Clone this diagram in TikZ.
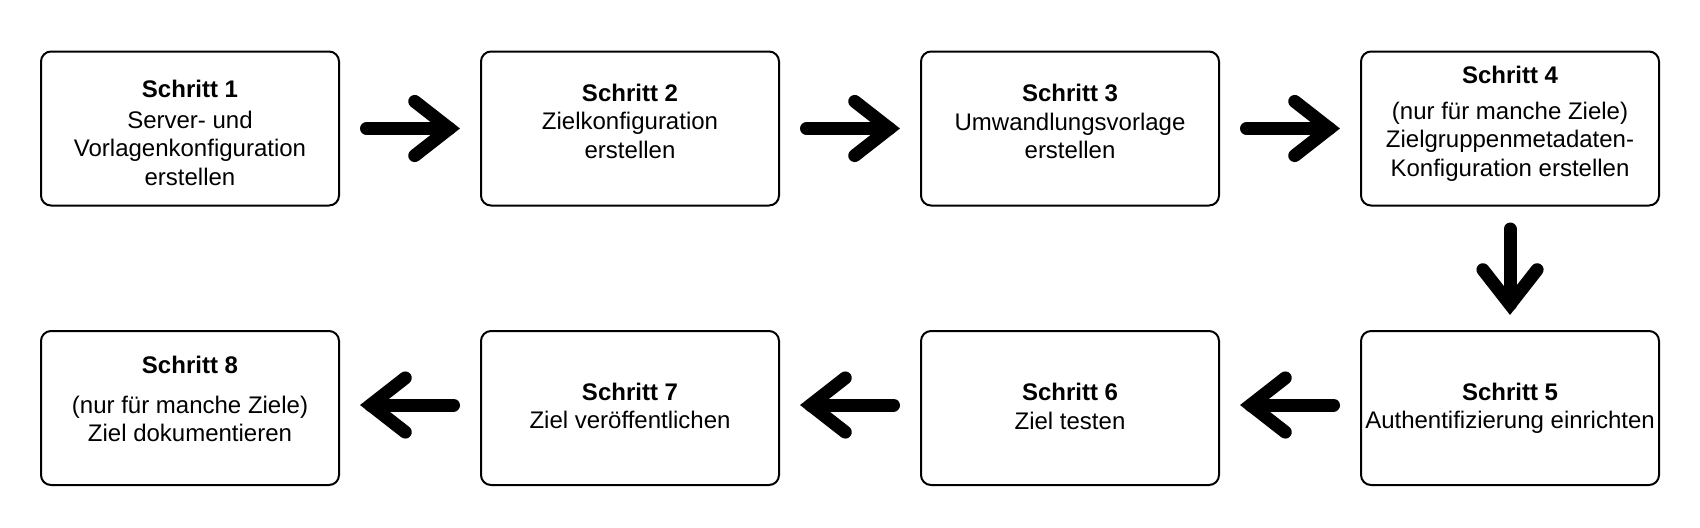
\documentclass[tikz,border=0pt]{standalone}
\usepackage{fontspec}
\setmainfont{Liberation Sans}
\usetikzlibrary{calc}
\tikzset{
  stepbox/.style={draw=black, line width=1pt, rounded corners=5pt, fill=white,
    minimum width=149pt, minimum height=77pt, inner sep=0pt, text height=0pt,
    font=\fontsize{12}{14.25}\selectfont},
  fatline/.style={line width=6.5pt, line cap=round, line join=miter, draw=black}
}
\newcommand{\steplines}[1]{\begin{tabular}[t]{@{}c@{}}#1\end{tabular}}
\newcommand{\fatarrow}[2]{%
  \coordinate (ta) at #1;
  \coordinate (tb) at #2;
  \coordinate (tcs) at ($(ta)!3.25pt!(tb)$);
  \coordinate (tce) at ($(tb)!5.3pt!(ta)$);
  \coordinate (arma) at ($(tce)!22pt!38:(ta)$);
  \coordinate (armb) at ($(tce)!22pt!-38:(ta)$);
  \draw[fatline] (tcs) -- (tce);
  \draw[fatline] (arma) -- (tce) -- (armb);
}
\begin{document}
\begin{tikzpicture}[x=0.5pt, y=-0.5pt]
\useasboundingbox (0,0) rectangle (1700,527);
\fill[white] (0,0) rectangle (1700,527);
\node[stepbox, text depth=31.5pt] (b1) at (190,128.5) {\steplines{\textbf{Schritt 1}\\[1.25pt]Server- und\\Vorlagenkonfiguration\\erstellen}};
\node[stepbox, text depth=27.5pt] (b2) at (630,128.5) {\steplines{\textbf{Schritt 2}\\Zielkonfiguration\\erstellen}};
\node[stepbox, text depth=27pt] (b3) at (1070,128.5) {\steplines{\textbf{Schritt 3}\\Umwandlungsvorlage\\erstellen}};
\node[stepbox, text depth=45.2pt] (b4) at (1510,128.5) {\steplines{\textbf{Schritt 4}\\[3.75pt](nur für manche Ziele)\\Zielgruppenmetadaten-\\Konfiguration erstellen}};
\node[stepbox, text depth=8pt] (b5) at (1510,408) {\steplines{\textbf{Schritt 5}\\Authentifizierung einrichten}};
\node[stepbox, text depth=7.5pt] (b6) at (1070,408) {\steplines{\textbf{Schritt 6}\\Ziel testen}};
\node[stepbox, text depth=8pt] (b7) at (630,408) {\steplines{\textbf{Schritt 7}\\Ziel veröffentlichen}};
\node[stepbox, text depth=34.7pt] (b8) at (190,408) {\steplines{\textbf{Schritt 8}\\[5.75pt](nur für manche Ziele)\\Ziel dokumentieren}};
\fatarrow{($(b1.east)+(10pt,0)$)}{($(b2.west)+(-10pt,0)$)}
\fatarrow{($(b2.east)+(10pt,0)$)}{($(b3.west)+(-10pt,0)$)}
\fatarrow{($(b3.east)+(10pt,0)$)}{($(b4.west)+(-10pt,0)$)}
\fatarrow{($(b4.south)+(0,-8pt)$)}{($(b5.north)+(0,7.5pt)$)}
\fatarrow{($(b5.west)+(-10pt,1.5pt)$)}{($(b6.east)+(10pt,1.5pt)$)}
\fatarrow{($(b6.west)+(-10pt,1.5pt)$)}{($(b7.east)+(10pt,1.5pt)$)}
\fatarrow{($(b7.west)+(-10pt,1.5pt)$)}{($(b8.east)+(10pt,1.5pt)$)}
\end{tikzpicture}
\end{document}
